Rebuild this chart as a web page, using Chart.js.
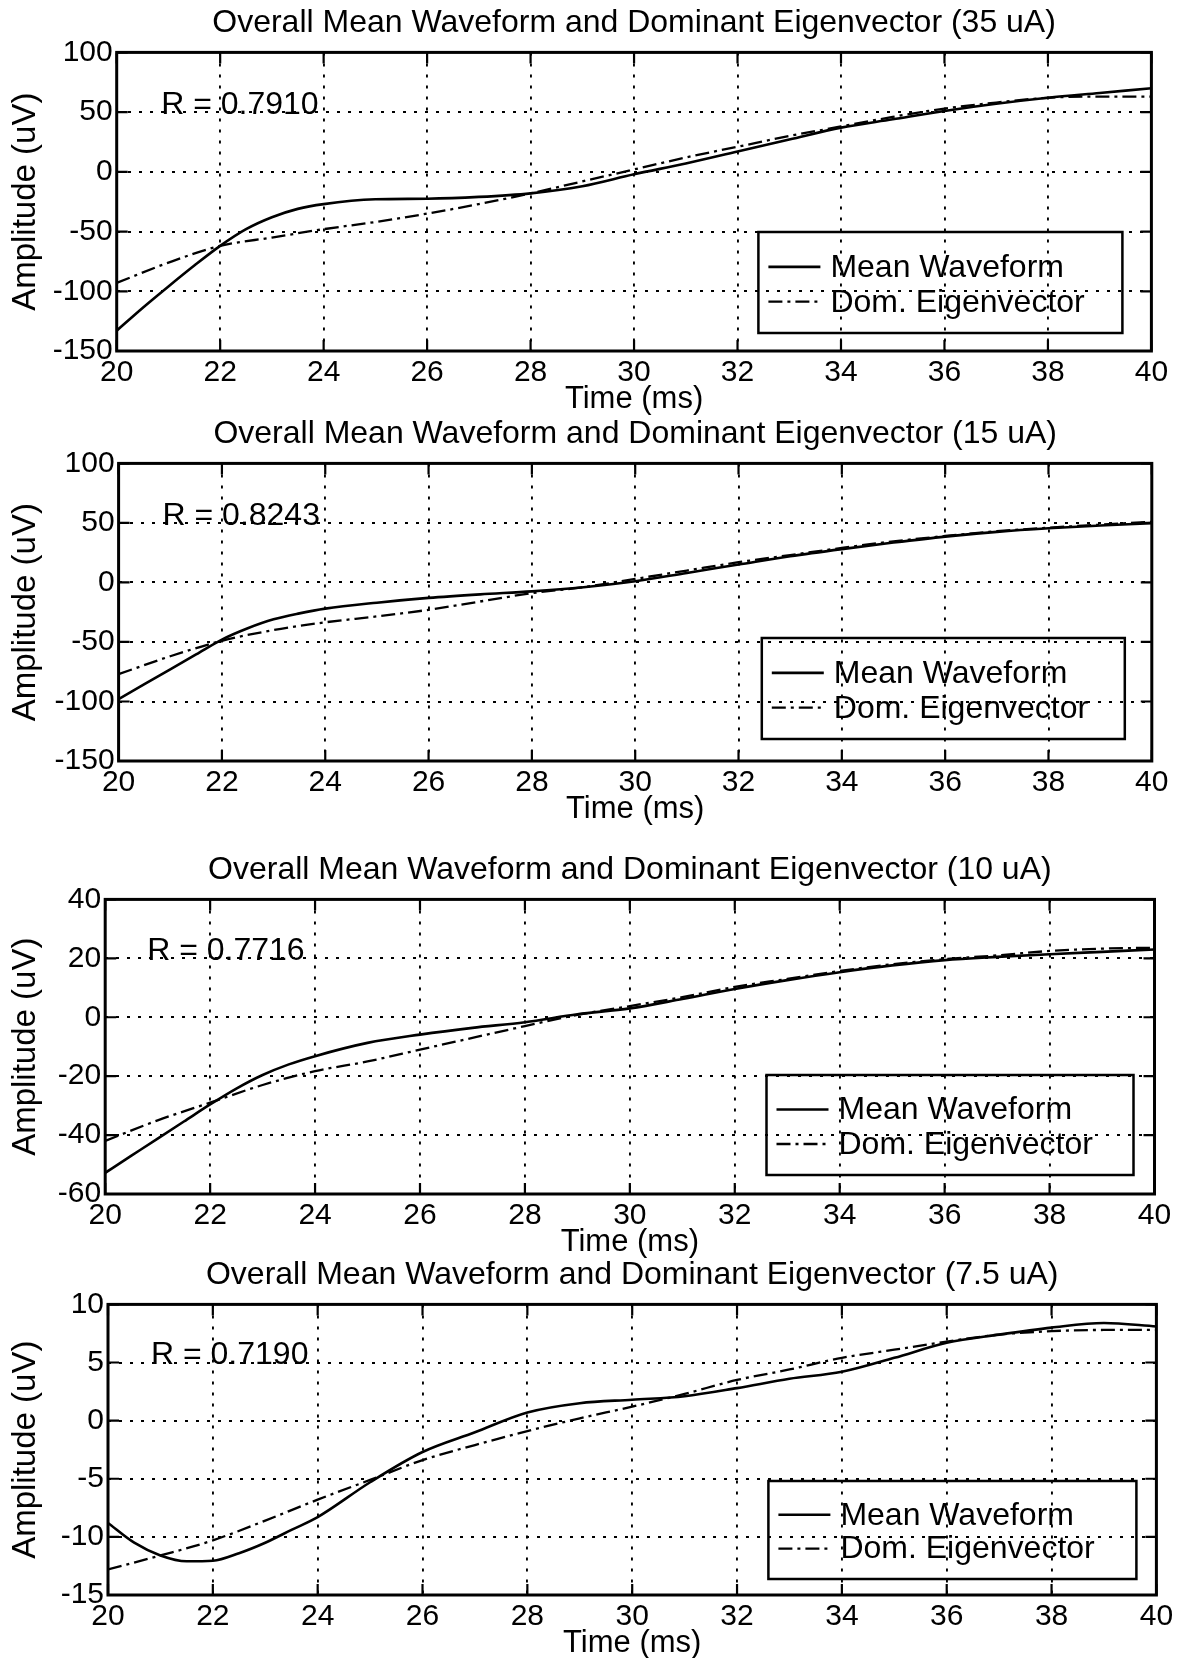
<!DOCTYPE html>
<html>
<head>
<meta charset="utf-8">
<script src="https://cdn.jsdelivr.net/npm/chart.js@4.4.0/dist/chart.umd.min.js"></script>
<style>
  body { margin: 0; background: #fff; }
  #pagina { position: relative; width: 1189px; height: 1658px; overflow: hidden; background: #fff; }
  .painel { position: absolute; left: 0; }
</style>
</head>
<body>
<div id="pagina"></div>
<script>
// tempo em ms (eixo x)
const tempo = [20, 21, 22, 23, 24, 25, 26, 27, 28, 29, 30, 31, 32, 33, 34, 35, 36, 37, 38, 39, 40];
const tempoFino = [20, 20.5, 21, 21.5, 22, 22.5, 23, 23.5, 24, 25, 26, 27, 28, 29, 30, 31, 32, 33, 34, 35, 36, 37, 38, 39, 40];
const ticksTempo = [20, 22, 24, 26, 28, 30, 32, 34, 36, 38, 40];

// 35 uA
const media35 = [-133, -114, -96, -78.5, -62, -48, -38, -31, -27, -23, -22.5, -21, -18, -12, -2, 7, 17, 27, 37, 44, 51, 57, 62, 66, 70];
const autovetor35 = [-93, -76, -62, -55, -48, -42, -35, -27, -18, -8, 2, 12, 21, 30, 38, 46, 53, 58, 62, 63, 63];
const ticksY35 = [-150, -100, -50, 0, 50, 100];

// 15 uA
const media15 = [-98, -85.5, -73, -60.5, -48, -38.5, -31, -26, -22, -17, -13, -10, -7.5, -4, 1, 8, 15, 22, 28, 33.5, 38.5, 42.5, 45.5, 47.8, 49.8];
const autovetor15 = [-77, -62, -49, -40, -33.5, -28.5, -23, -16, -9, -4, 3, 10, 17, 23, 29, 34.5, 39, 43, 46, 48.5, 51];
const ticksY15 = [-150, -100, -50, 0, 50, 100];

// 10 uA
const media10 = [-52.8, -47, -41.2, -35.4, -29.6, -24.2, -19.6, -16.0, -13.2, -8.7, -5.9, -3.6, -1.7, 1.0, 3.0, 6.2, 9.6, 12.6, 15.3, 17.6, 19.4, 20.5, 21.4, 22.2, 23];
const autovetor10 = [-42, -35, -29, -23, -18.3, -15, -11, -7, -3, 0.8, 3.8, 6.8, 10.3, 13, 15.7, 18, 19.7, 21, 22.5, 23.3, 23.6];
const ticksY10 = [-60, -40, -20, 0, 20, 40];

// 7.5 uA
const media75 = [-8.8, -10.5, -11.6, -12.1, -12.05, -11.4, -10.5, -9.4, -8.3, -5.3, -2.7, -1.0, 0.7, 1.5, 1.8, 2.1, 2.8, 3.6, 4.2, 5.4, 6.7, 7.4, 8.0, 8.4, 8.1];
const autovetor75 = [-12.8, -11.6, -10.3, -8.6, -6.8, -5.1, -3.4, -2.1, -0.9, 0.2, 1.2, 2.3, 3.5, 4.4, 5.4, 6.1, 6.8, 7.4, 7.7, 7.8, 7.8];
const ticksY75 = [-15, -10, -5, 0, 5, 10];

const correntes = ['35 uA', '15 uA', '10 uA', '7.5 uA'];
const valoresR = [0.7910, 0.8243, 0.7716, 0.7190];

// posicao de cada grafico na pagina (area do grafico em px) e da legenda
const molduras = [
    { L: 116.7, R: 1151.4, T: 51.7, B: 350.7, leg: { dx: -29, dy: -18, w: 364, h: 101 }, rx: 20.86, ry: 56 },
    { L: 118.6, R: 1151.8, T: 462.7, B: 761, leg: { dx: -27, dy: -22, w: 363, h: 101 }, rx: 20.85, ry: 55.3 },
    { L: 105.2, R: 1154.5, T: 899.3, B: 1194.3, leg: { dx: -21, dy: -19, w: 367, h: 100 }, rx: 20.8, ry: 22.4 },
    { L: 108, R: 1156.4, T: 1304.3, B: 1595.7, leg: { dx: -20, dy: -16, w: 368, h: 98 }, rx: 20.82, ry: 5.66 }
];

const series = [
    { tm: tempoFino, media: media35, ta: tempo, auto: autovetor35, ticksY: ticksY35 },
    { tm: tempoFino, media: media15, ta: tempo, auto: autovetor15, ticksY: ticksY15 },
    { tm: tempoFino, media: media10, ta: tempo, auto: autovetor10, ticksY: ticksY10 },
    { tm: tempoFino, media: media75, ta: tempo, auto: autovetor75, ticksY: ticksY75 }
];

const FONTE = '"Liberation Sans", Arial, Helvetica, sans-serif';
Chart.defaults.font.family = FONTE;
Chart.defaults.color = '#000';

const TOPO = 60;   // espaco do titulo
const BASE = 72;   // espaco do eixo x

// caixa, marcas internas, texto R e legenda
const moldura = {
    id: 'moldura',
    afterDraw(chart, args, opts) {
        const ctx = chart.ctx;
        const a = chart.chartArea;
        const sx = chart.scales.x;
        const sy = chart.scales.y;
        ctx.save();
        ctx.strokeStyle = '#000';
        ctx.setLineDash([]);
        ctx.lineWidth = 3;
        ctx.strokeRect(a.left, a.top, a.right - a.left, a.bottom - a.top);

        ctx.lineWidth = 2.2;
        const tam = 11;
        ctx.beginPath();
        sx.ticks.forEach(t => {
            const px = sx.getPixelForValue(t.value);
            ctx.moveTo(px, a.bottom); ctx.lineTo(px, a.bottom - tam);
            ctx.moveTo(px, a.top); ctx.lineTo(px, a.top + tam);
        });
        sy.ticks.forEach(t => {
            const py = sy.getPixelForValue(t.value);
            ctx.moveTo(a.left, py); ctx.lineTo(a.left + tam, py);
            ctx.moveTo(a.right, py); ctx.lineTo(a.right - tam, py);
        });
        ctx.stroke();

        // R = ...
        ctx.fillStyle = '#000';
        ctx.font = '32px ' + FONTE;
        ctx.textBaseline = 'middle';
        ctx.textAlign = 'left';
        ctx.fillText(opts.texto, sx.getPixelForValue(opts.rx), sy.getPixelForValue(opts.ry));

        // legenda
        const leg = opts.leg;
        const x0 = a.right + leg.dx - leg.w;
        const y0 = a.bottom + leg.dy - leg.h;
        ctx.lineWidth = 2.5;
        ctx.strokeRect(x0, y0, leg.w, leg.h);
        chart.data.datasets.forEach((ds, i) => {
            const yy = y0 + leg.h * (0.345 + 0.345 * i);
            ctx.save();
            ctx.lineWidth = ds.borderWidth;
            ctx.setLineDash(ds.borderDash || []);
            ctx.beginPath();
            ctx.moveTo(x0 + 10, yy);
            ctx.lineTo(x0 + 62, yy);
            ctx.stroke();
            ctx.restore();
            ctx.fillText(ds.label, x0 + 72, yy + 1);
        });
        ctx.restore();
    }
};

function criarGrafico(i) {
    const m = molduras[i];
    const s = series[i];
    const largura = 1189;
    const altura = Math.round(m.B - m.T) + TOPO + BASE;

    const div = document.createElement('div');
    div.className = 'painel';
    div.style.top = (m.T - TOPO) + 'px';
    const canvas = document.createElement('canvas');
    canvas.width = largura;
    canvas.height = altura;
    canvas.style.width = largura + 'px';
    canvas.style.height = altura + 'px';
    div.appendChild(canvas);
    document.getElementById('pagina').appendChild(div);

    const ticksY = s.ticksY;

    new Chart(canvas, {
        type: 'line',
        data: {
            datasets: [
                {
                    label: 'Mean Waveform',
                    data: s.tm.map((t, k) => ({ x: t, y: s.media[k] })),
                    borderColor: '#000',
                    borderWidth: 2.6,
                    pointRadius: 0,
                    cubicInterpolationMode: 'monotone',
                    fill: false
                },
                {
                    label: 'Dom. Eigenvector',
                    data: s.ta.map((t, k) => ({ x: t, y: s.auto[k] })),
                    borderColor: '#000',
                    borderWidth: 2.3,
                    borderDash: [14, 5, 3, 5],
                    pointRadius: 0,
                    cubicInterpolationMode: 'monotone',
                    fill: false
                }
            ]
        },
        options: {
            responsive: false,
            animation: false,
            devicePixelRatio: 1,
            layout: { padding: { left: 0, right: largura - m.R, top: 0, bottom: 0 } },
            plugins: {
                legend: { display: false },
                tooltip: { enabled: false },
                title: {
                    display: true,
                    fullSize: false,
                    text: 'Overall Mean Waveform and Dominant Eigenvector (' + correntes[i] + ')',
                    font: { size: 32, weight: 'normal' },
                    color: '#000',
                    padding: { top: 12, bottom: 10 }
                },
                moldura: {
                    texto: 'R = ' + valoresR[i].toFixed(4),
                    rx: m.rx,
                    ry: m.ry,
                    leg: m.leg
                }
            },
            scales: {
                x: {
                    type: 'linear',
                    min: ticksTempo[0],
                    max: ticksTempo[ticksTempo.length - 1],
                    afterBuildTicks: ax => { ax.ticks = ticksTempo.map(v => ({ value: v })); },
                    afterFit: ax => { ax.height = BASE; },
                    ticks: { font: { size: 30 }, padding: 4, maxRotation: 0, autoSkip: false },
                    grid: { color: '#000', lineWidth: 1.9, drawTicks: false, borderDash: [3, 8] },
                    border: { display: false, dash: [3, 8] },
                    title: { display: true, text: 'Time (ms)', font: { size: 31 }, padding: { top: 0, bottom: 5 } }
                },
                y: {
                    type: 'linear',
                    min: ticksY[0],
                    max: ticksY[ticksY.length - 1],
                    afterBuildTicks: ax => { ax.ticks = ticksY.map(v => ({ value: v })); },
                    afterFit: ax => { ax.width = m.L; },
                    ticks: { font: { size: 30 }, padding: 4 },
                    grid: { color: '#000', lineWidth: 1.9, drawTicks: false, borderDash: [3, 8] },
                    border: { display: false, dash: [3, 8] },
                    title: { display: true, text: 'Amplitude (uV)', font: { size: 33 }, padding: { top: 6, bottom: 0 } }
                }
            }
        },
        plugins: [moldura]
    });
}

for (let i = 0; i < molduras.length; i++) {
    criarGrafico(i);
}
</script>
</body>
</html>
